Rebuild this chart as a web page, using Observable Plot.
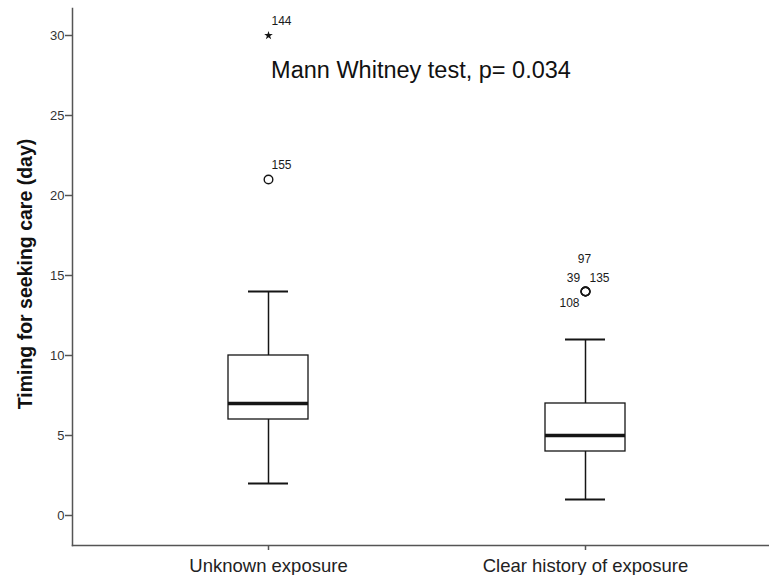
<!DOCTYPE html>
<html>
<head>
<meta charset="utf-8">
<script src="https://cdn.jsdelivr.net/npm/d3@7"></script>
<script src="https://cdn.jsdelivr.net/npm/@observablehq/plot@0.6"></script>
<style>
  html, body { margin: 0; padding: 0; background: #fff; }
  #chart svg { display: block; }
</style>
</head>
<body>
<div id="chart"></div>
<script>
// ---- data ----
const groups = ["Unknown exposure", "Clear history of exposure"];
const whiskerLow = [2, 1];
const q1 = [6, 4];
const median = [7, 5];
const q3 = [10, 7];
const whiskerHigh = [14, 11];

const outlierGroup = ["Unknown exposure", "Unknown exposure", "Clear history of exposure"];
const outlierValue = [21, 30, 14];
const outlierType = ["mild", "extreme", "mild"];
const outlierCaseIds = [["155"], ["144"], ["97", "39", "135", "108"]];

const yTicks = [0, 5, 10, 15, 20, 25, 30];
const yLabel = "Timing for seeking care (day)";
const annotation = "Mann Whitney test, p= 0.034";

// ---- build tables ----
const boxes = groups.map((g, i) => ({
  group: g, lo: whiskerLow[i], q1: q1[i], med: median[i], q3: q3[i], hi: whiskerHigh[i]
}));
const cases = [];
outlierGroup.forEach((g, i) => {
  outlierCaseIds[i].forEach((id, k) => {
    cases.push({group: g, value: outlierValue[i], type: outlierType[i], id, k, n: outlierCaseIds[i].length});
  });
});

// label placement (style only): single labels up-right; clustered labels around the point
const clusterOffsets = [
  {dx: -1, dy: -32, anchor: "middle"},
  {dx: -12, dy: -13, anchor: "middle"},
  {dx: 14, dy: -13, anchor: "middle"},
  {dx: -16, dy: 12, anchor: "middle"}
];
const labelMarks = cases.map(c => {
  const o = c.n === 1 ? {dx: 3, dy: -14, anchor: "start"} : clusterOffsets[c.k];
  return Plot.text([c], {
    x: "group", y: "value", text: "id",
    dx: o.dx, dy: o.dy, textAnchor: o.anchor,
    fontSize: 12, fill: "#1a1a1a"
  });
});

const ink = "#151515";
const axisGray = "#555";

const chart = Plot.plot({
  width: 769,
  height: 575,
  marginLeft: 72,
  marginRight: 0,
  marginTop: 8,
  marginBottom: 30,
  style: {
    fontFamily: "Arial, 'Liberation Sans', sans-serif",
    background: "#fff",
    color: "#222",
    overflow: "visible"
  },
  x: {domain: groups, paddingInner: 0.748, paddingOuter: 0.47, align: 0.5186, label: null},
  y: {domain: [-1.875, 31.6875], label: null},
  marks: [
    Plot.frame({anchor: "left", stroke: axisGray, strokeWidth: 1.5}),
    Plot.frame({anchor: "bottom", stroke: axisGray, strokeWidth: 1.5}),
    Plot.axisY({ticks: yTicks, tickSize: 7, tickPadding: 1, fontSize: 13, label: null,
      stroke: axisGray, strokeWidth: 1.5, fill: "#333"}),
    Plot.axisX({tickSize: 5, tickPadding: 8, fontSize: 18.5, label: null,
      stroke: axisGray, strokeWidth: 1.5, fill: "#222"}),
    // whiskers
    Plot.ruleX(boxes, {x: "group", y1: "q3", y2: "hi", stroke: ink, strokeWidth: 1.5}),
    Plot.ruleX(boxes, {x: "group", y1: "lo", y2: "q1", stroke: ink, strokeWidth: 1.5}),
    Plot.tickY(boxes, {x: "group", y: "hi", inset: 20, stroke: ink, strokeWidth: 1.8}),
    Plot.tickY(boxes, {x: "group", y: "lo", inset: 20, stroke: ink, strokeWidth: 1.8}),
    // boxes
    Plot.barY(boxes, {x: "group", y1: "q1", y2: "q3", fill: "#fff", stroke: ink, strokeWidth: 1.3}),
    Plot.tickY(boxes, {x: "group", y: "med", stroke: ink, strokeWidth: 3.5}),
    // outliers
    Plot.dot(cases.filter(d => d.type === "mild"), {x: "group", y: "value", r: 4.3,
      stroke: ink, strokeWidth: 1.4, fill: "none"}),
    Plot.dot(cases.filter(d => d.type === "extreme"), {x: "group", y: "value", r: 2.7,
      symbol: "star", fill: ink, stroke: "none"}),
    ...labelMarks,
    // annotation and y label
    Plot.text([annotation], {frameAnchor: "top", dy: 53, text: d => d, fontSize: 23.5, fill: "#111"}),
    Plot.text([yLabel], {frameAnchor: "left", textAnchor: "middle", dx: -47, dy: -3, rotate: -90,
      text: d => d, fontSize: 19.5, fontWeight: "bold", fill: "#111"})
  ]
});

document.getElementById("chart").appendChild(chart);
</script>
</body>
</html>
